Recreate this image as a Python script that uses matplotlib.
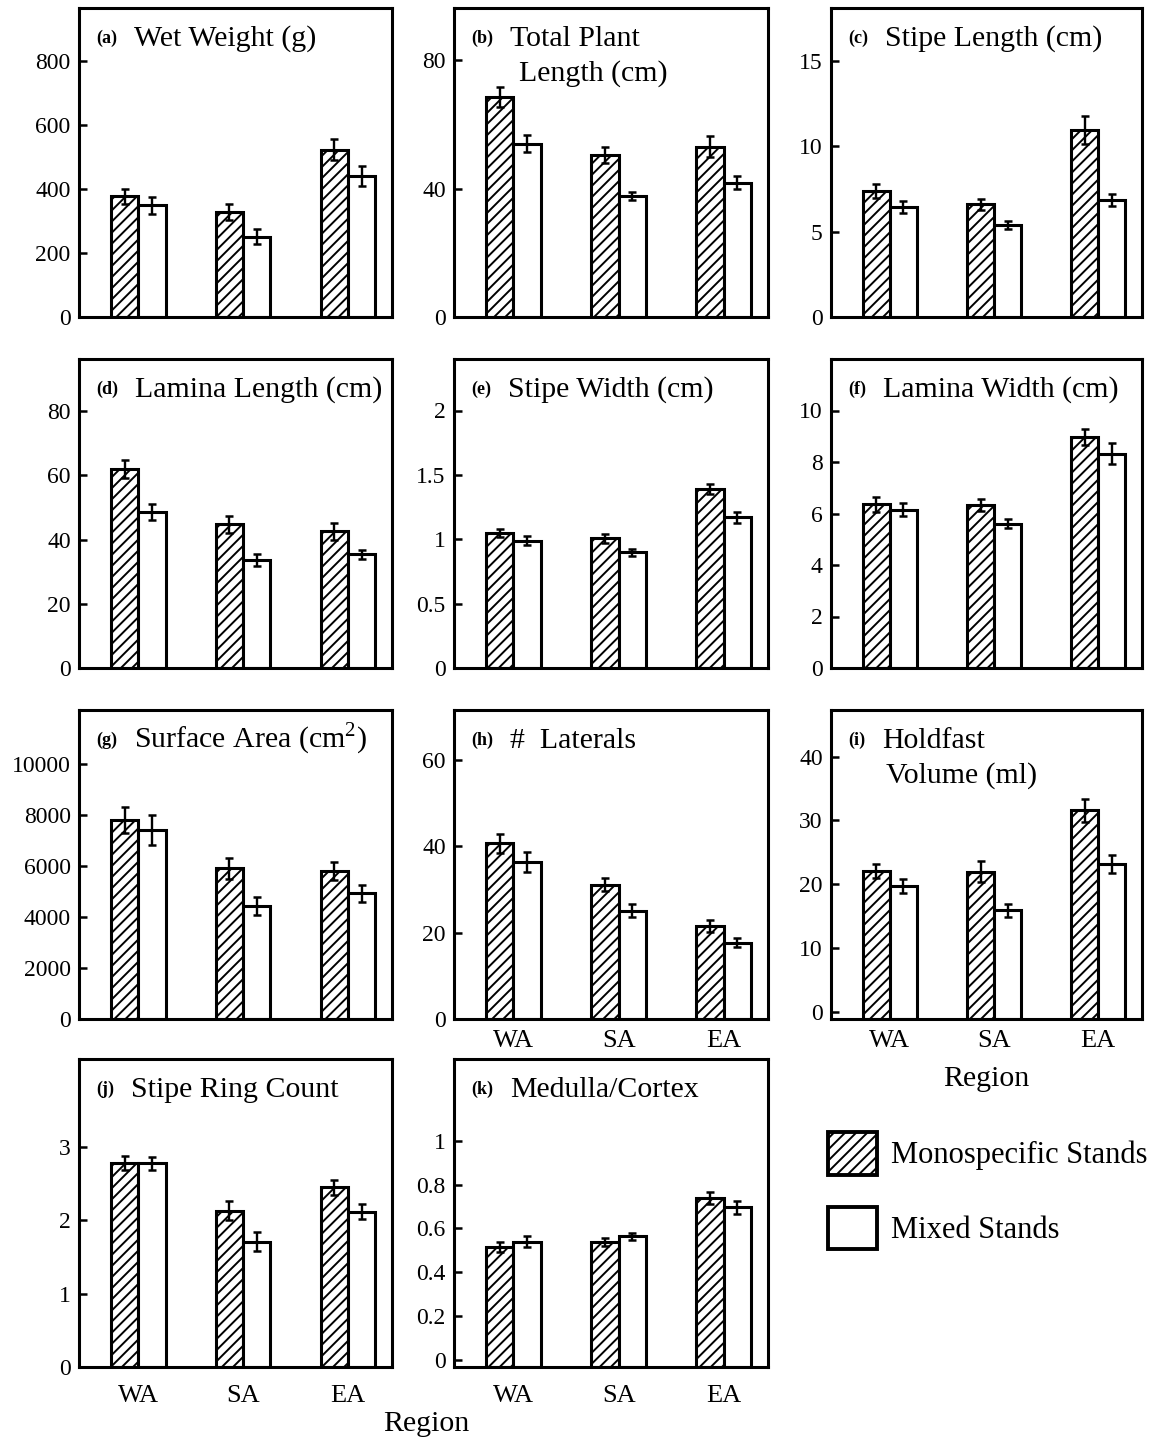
import matplotlib
matplotlib.use('Agg')
import matplotlib.pyplot as plt
from matplotlib.patches import Patch

plt.rcParams['font.family'] = ['Liberation Serif', 'DejaVu Serif']
plt.rcParams['mathtext.fontset'] = 'custom'
plt.rcParams['mathtext.rm'] = 'Liberation Serif'
plt.rcParams['hatch.linewidth'] = 1.4

regions = ['WA', 'SA', 'EA']

# means and standard errors: monospecific vs mixed stands
wet_mono = [378, 330, 524]
wet_mono_se = [24, 25, 33]
wet_mixed = [350, 251, 440]
wet_mixed_se = [27, 24, 31]

length_mono = [68.6, 50.4, 53.1]
length_mono_se = [3.0, 2.5, 3.2]
length_mixed = [54.0, 37.8, 41.9]
length_mixed_se = [2.7, 1.3, 1.9]

stipe_len_mono = [7.38, 6.6, 10.94]
stipe_len_mono_se = [0.39, 0.34, 0.81]
stipe_len_mixed = [6.43, 5.37, 6.87]
stipe_len_mixed_se = [0.36, 0.24, 0.35]

lamina_len_mono = [62.0, 44.7, 42.6]
lamina_len_mono_se = [2.7, 2.7, 2.6]
lamina_len_mixed = [48.5, 33.6, 35.4]
lamina_len_mixed_se = [2.5, 1.8, 1.4]

stipe_wid_mono = [1.05, 1.006, 1.39]
stipe_wid_mono_se = [0.03, 0.035, 0.042]
stipe_wid_mixed = [0.988, 0.898, 1.169]
stipe_wid_mixed_se = [0.035, 0.026, 0.039]

lamina_wid_mono = [6.35, 6.33, 8.97]
lamina_wid_mono_se = [0.28, 0.24, 0.31]
lamina_wid_mixed = [6.15, 5.6, 8.32]
lamina_wid_mixed_se = [0.25, 0.18, 0.4]

area_mono = [7800, 5900, 5800]
area_mono_se = [500, 420, 360]
area_mixed = [7400, 4420, 4930]
area_mixed_se = [590, 345, 330]

laterals_mono = [40.7, 31.1, 21.5]
laterals_mono_se = [2.2, 1.5, 1.3]
laterals_mixed = [36.4, 25.1, 17.7]
laterals_mixed_se = [2.3, 1.55, 1.05]

holdfast_mono = [22.1, 22.0, 31.6]
holdfast_mono_se = [1.1, 1.6, 1.8]
holdfast_mixed = [19.8, 15.9, 23.2]
holdfast_mixed_se = [1.1, 1.0, 1.45]

rings_mono = [2.78, 2.13, 2.45]
rings_mono_se = [0.095, 0.13, 0.1]
rings_mixed = [2.78, 1.71, 2.12]
rings_mixed_se = [0.09, 0.13, 0.1]

medulla_mono = [0.515, 0.539, 0.738]
medulla_mono_se = [0.024, 0.018, 0.028]
medulla_mixed = [0.54, 0.563, 0.696]
medulla_mixed_se = [0.024, 0.018, 0.029]

W, H = 1149, 1437
fig = plt.figure(figsize=(W / 100, H / 100), dpi=100)

cols = [(79, 313), (454, 314), (831, 311)]
rows = [(8, 317), (359, 668), (710, 1019), (1059, 1367)]

# tag, title lines, second-line indent, data, ylim, yticks, grid cell, x labels pad (None = hidden)
panels = [
    ('(a)', ['Wet Weight (g)'], 0, (wet_mono, wet_mono_se, wet_mixed, wet_mixed_se),
     (0, 967), [0, 200, 400, 600, 800], (0, 0), None),
    ('(b)', ['Total Plant', 'Length (cm)'], 9, (length_mono, length_mono_se, length_mixed, length_mixed_se),
     (0, 96.3), [0, 40, 80], (0, 1), None),
    ('(c)', ['Stipe Length (cm)'], 0, (stipe_len_mono, stipe_len_mono_se, stipe_len_mixed, stipe_len_mixed_se),
     (0, 18.1), [0, 5, 10, 15], (0, 2), None),
    ('(d)', ['Lamina Length (cm)'], 0, (lamina_len_mono, lamina_len_mono_se, lamina_len_mixed, lamina_len_mixed_se),
     (0, 96.2), [0, 20, 40, 60, 80], (1, 0), None),
    ('(e)', ['Stipe Width (cm)'], 0, (stipe_wid_mono, stipe_wid_mono_se, stipe_wid_mixed, stipe_wid_mixed_se),
     (0, 2.4), [0, 0.5, 1, 1.5, 2], (1, 1), None),
    ('(f)', ['Lamina Width (cm)'], 0, (lamina_wid_mono, lamina_wid_mono_se, lamina_wid_mixed, lamina_wid_mixed_se),
     (0, 12.0), [0, 2, 4, 6, 8, 10], (1, 2), None),
    ('(g)', ['Surface Area (cm$^{2}$)'], 0, (area_mono, area_mono_se, area_mixed, area_mixed_se),
     (0, 12100), [0, 2000, 4000, 6000, 8000, 10000], (2, 0), None),
    ('(h)', ['#  Laterals'], 0, (laterals_mono, laterals_mono_se, laterals_mixed, laterals_mixed_se),
     (0, 71.5), [0, 20, 40, 60], (2, 1), 8),
    ('(i)', ['Holdfast', 'Volume (ml)'], 4, (holdfast_mono, holdfast_mono_se, holdfast_mixed, holdfast_mixed_se),
     (-1.1, 47.3), [0, 10, 20, 30, 40], (2, 2), 8),
    ('(j)', ['Stipe Ring Count'], 0, (rings_mono, rings_mono_se, rings_mixed, rings_mixed_se),
     (0, 4.2), [0, 1, 2, 3], (3, 0), 13),
    ('(k)', ['Medulla/Cortex'], 0, (medulla_mono, medulla_mono_se, medulla_mixed, medulla_mixed_se),
     (-0.034, 1.375), [0, 0.2, 0.4, 0.6, 0.8, 1], (3, 1), 13),
]

x = list(range(len(regions)))
bw = 0.26
for tag, title, indent, (mono, mono_se, mixed, mixed_se), ylim, yticks, (r, c), xpad in panels:
    left, width = cols[c]
    top, bottom = rows[r]
    ax = fig.add_axes([left / W, 1 - bottom / H, width / W, (bottom - top) / H])
    lo = ylim[0]
    xm = [i - bw / 2 for i in x]
    xx = [i + bw / 2 for i in x]
    ax.bar(xm, [v - lo for v in mono], bw, bottom=lo, facecolor='white', edgecolor='black',
           hatch='///', linewidth=2.2, zorder=2)
    ax.bar(xx, [v - lo for v in mixed], bw, bottom=lo, facecolor='white', edgecolor='black',
           linewidth=2.2, zorder=2)
    ax.errorbar(xm, mono, yerr=mono_se, fmt='none', ecolor='black', elinewidth=1.7,
                capsize=3, capthick=1.8, zorder=3)
    ax.errorbar(xx, mixed, yerr=mixed_se, fmt='none', ecolor='black', elinewidth=1.7,
                capsize=3, capthick=1.8, zorder=3)
    ax.set_xlim(-0.565, 2.42)
    ax.set_ylim(*ylim)
    ax.set_yticks(yticks)
    ax.set_yticklabels(['{:g}'.format(t) for t in yticks])
    ax.tick_params(axis='y', direction='in', length=6, width=1.8, pad=6, labelsize=17)
    ax.set_xticks(x)
    if xpad is None:
        ax.tick_params(axis='x', length=0, labelbottom=False)
    else:
        ax.set_xticklabels(regions)
        ax.tick_params(axis='x', length=0, pad=xpad, labelsize=19)
    for s in ax.spines.values():
        s.set_linewidth(2.2)
    lab = ax.annotate(tag, xy=(0, 1), xycoords='axes fraction', xytext=(17, -35),
                      textcoords='offset pixels', fontsize=13, fontweight='bold',
                      ha='left', va='baseline')
    ax.annotate(title[0], xy=(1, 1), xycoords=(lab, 'axes fraction'), xytext=(17, -38),
                textcoords='offset pixels', fontsize=21.5, ha='left', va='baseline')
    if len(title) > 1:
        ax.annotate(title[1], xy=(1, 1), xycoords=(lab, 'axes fraction'), xytext=(17 + indent, -73),
                    textcoords='offset pixels', fontsize=21.5, ha='left', va='baseline')

fig.text(986 / W, 1 - 1086 / H, 'Region', ha='center', va='baseline', fontsize=21.5)
fig.text(426 / W, 1 - 1431 / H, 'Region', ha='center', va='baseline', fontsize=21.5)

handles = [Patch(facecolor='white', edgecolor='black', hatch='///', linewidth=2.8),
           Patch(facecolor='white', edgecolor='black', linewidth=2.8)]
fig.legend(handles, ['Monospecific Stands', 'Mixed Stands'], loc='upper left',
           bbox_to_anchor=(828 / W, 1 - 1132 / H), frameon=False, fontsize=22,
           borderpad=0, borderaxespad=0, handlelength=1.6, handleheight=1.77,
           handletextpad=0.45, labelspacing=1.05)

fig.savefig('out.png', dpi=100)
